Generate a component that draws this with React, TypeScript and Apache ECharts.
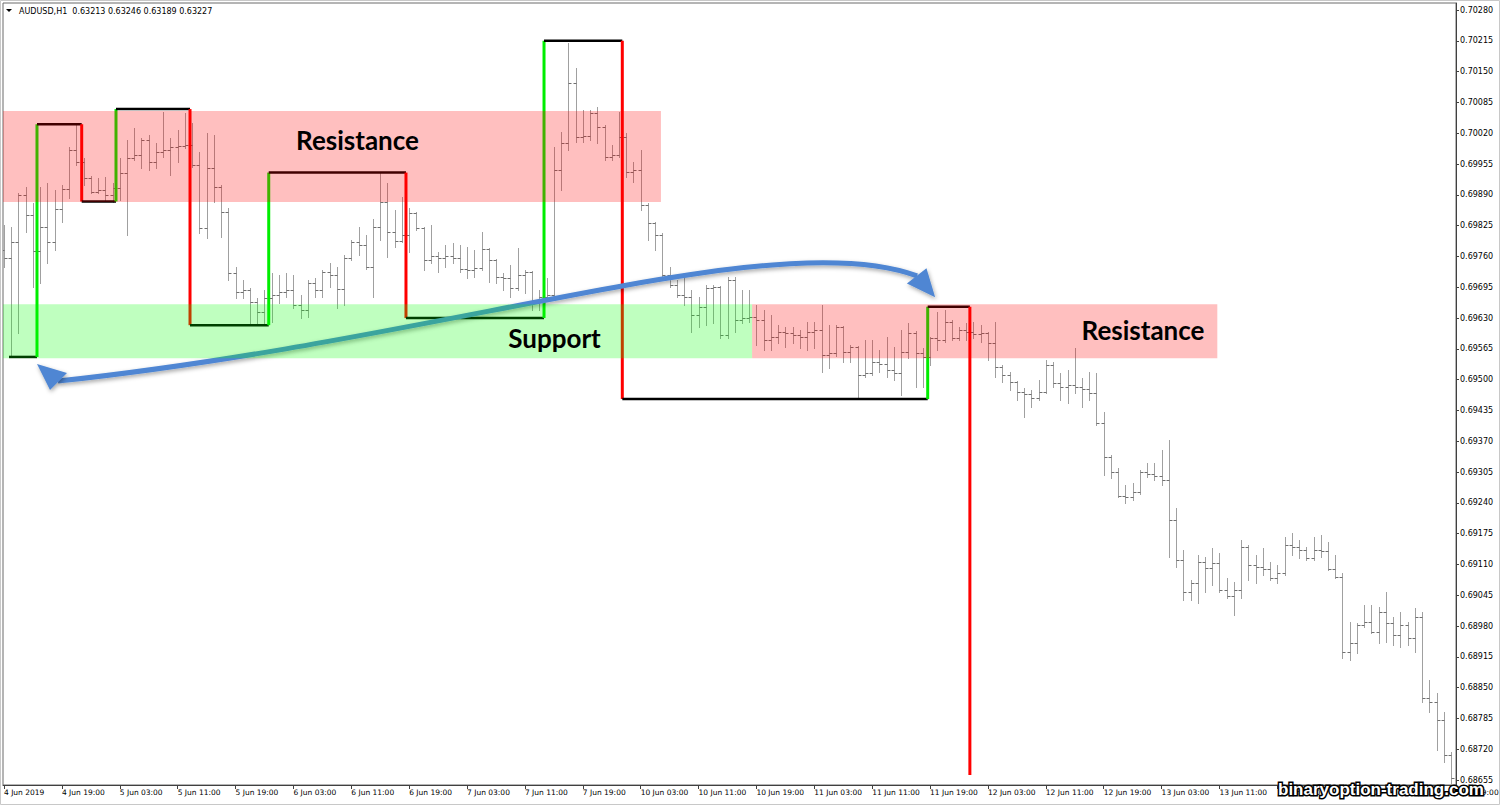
import React, { useEffect, useRef } from "react";
import * as echarts from "echarts";

// ---- x axis: hourly bars, a label every 8 bars ----
const tickBars = [0, 8, 16, 24, 32, 40, 48, 56, 64, 72, 80, 88, 96, 104, 112, 120, 128, 136, 144, 152, 160, 168, 176, 184, 192, 200];
const tickLabels = [
  "4 Jun 2019", "4 Jun 19:00", "5 Jun 03:00", "5 Jun 11:00", "5 Jun 19:00", "6 Jun 03:00", "6 Jun 11:00",
  "6 Jun 19:00", "7 Jun 03:00", "7 Jun 11:00", "7 Jun 19:00", "10 Jun 03:00", "10 Jun 11:00", "10 Jun 19:00",
  "11 Jun 03:00", "11 Jun 11:00", "11 Jun 19:00", "12 Jun 03:00", "12 Jun 11:00", "12 Jun 19:00", "13 Jun 03:00",
  "13 Jun 11:00", "13 Jun 19:00", "14 Jun 03:00", "14 Jun 11:00", "14 Jun 19:00",
];

// ---- y axis price labels ----
const priceTicks = [
  0.7028, 0.70215, 0.7015, 0.70085, 0.7002, 0.69955, 0.6989, 0.69825, 0.6976, 0.69695, 0.6963, 0.69565, 0.695,
  0.69435, 0.6937, 0.69305, 0.6924, 0.69175, 0.6911, 0.69045, 0.6898, 0.68915, 0.6885, 0.68785, 0.6872, 0.68655,
];

// ---- AUDUSD H1 bars: [open, high, low, close] ----
const bars: number[][] = [
  [0.69774, 0.69826, 0.69738, 0.69757], [0.69757, 0.69822, 0.69552, 0.69791], [0.69791, 0.69894, 0.69599, 0.6989],
  [0.6989, 0.69907, 0.69812, 0.69848], [0.69848, 0.69873, 0.69696, 0.69772], [0.69772, 0.69907, 0.69704, 0.69822],
  [0.69822, 0.69915, 0.69746, 0.69791], [0.69791, 0.699, 0.69774, 0.6986], [0.6986, 0.69911, 0.69833, 0.69902],
  [0.69902, 0.69991, 0.69883, 0.69985], [0.69985, 0.70037, 0.69953, 0.69959], [0.69959, 0.69968, 0.69911, 0.69926],
  [0.69926, 0.6993, 0.69894, 0.69896], [0.69896, 0.69926, 0.69894, 0.699], [0.699, 0.69928, 0.69879, 0.6989],
  [0.6989, 0.69915, 0.69875, 0.69904], [0.69904, 0.69968, 0.69879, 0.69936], [0.69936, 0.70006, 0.69805, 0.69968],
  [0.69968, 0.70031, 0.69964, 0.69975], [0.69975, 0.7001, 0.69947, 0.70006], [0.70006, 0.70016, 0.69942, 0.69959],
  [0.69959, 0.69999, 0.69947, 0.6998], [0.6998, 0.70065, 0.6997, 0.69985], [0.69985, 0.7001, 0.69932, 0.69991],
  [0.69991, 0.70027, 0.69959, 0.69993], [0.69993, 0.70063, 0.69988, 0.69995], [0.69995, 0.70042, 0.69948, 0.69953],
  [0.69953, 0.6998, 0.6981, 0.6982], [0.6982, 0.70021, 0.69799, 0.69947], [0.69947, 0.70016, 0.69875, 0.69907],
  [0.69907, 0.69911, 0.69801, 0.69854], [0.69854, 0.69862, 0.6971, 0.69725], [0.69725, 0.69738, 0.69672, 0.69685],
  [0.69685, 0.6971, 0.69672, 0.6969], [0.6969, 0.69693, 0.6962, 0.69664], [0.69664, 0.69672, 0.6962, 0.69643],
  [0.69643, 0.69689, 0.6962, 0.69672], [0.69672, 0.69725, 0.69622, 0.69679], [0.69679, 0.69721, 0.69662, 0.69685],
  [0.69685, 0.69725, 0.69674, 0.69689], [0.69689, 0.69721, 0.69651, 0.69658], [0.69658, 0.69679, 0.6963, 0.69647],
  [0.69647, 0.6971, 0.69632, 0.69704], [0.69704, 0.69715, 0.69674, 0.69689], [0.69689, 0.69731, 0.69674, 0.69727],
  [0.69727, 0.69746, 0.69696, 0.6972], [0.6972, 0.69738, 0.69651, 0.69691], [0.69691, 0.69763, 0.69658, 0.69757],
  [0.69757, 0.69795, 0.69753, 0.69791], [0.69791, 0.69822, 0.69763, 0.69785], [0.69785, 0.69805, 0.69733, 0.69738],
  [0.69738, 0.69839, 0.69674, 0.69822], [0.69822, 0.69936, 0.69795, 0.69875], [0.69875, 0.69915, 0.69759, 0.69812],
  [0.69812, 0.69858, 0.6978, 0.69793], [0.69793, 0.69885, 0.69791, 0.69805], [0.69805, 0.69862, 0.69769, 0.69852],
  [0.69852, 0.69854, 0.69815, 0.6982], [0.6982, 0.69822, 0.69731, 0.69753], [0.69753, 0.69826, 0.69746, 0.6976],
  [0.6976, 0.69769, 0.69727, 0.69757], [0.69757, 0.69784, 0.69738, 0.69762], [0.69762, 0.69788, 0.69746, 0.69757],
  [0.69757, 0.69784, 0.69728, 0.69733], [0.69733, 0.6978, 0.69715, 0.69731], [0.69731, 0.69774, 0.69717, 0.69735],
  [0.69735, 0.69812, 0.69731, 0.69776], [0.69776, 0.69778, 0.69706, 0.69753], [0.69753, 0.69755, 0.69704, 0.69717],
  [0.69717, 0.69725, 0.69689, 0.69715], [0.69715, 0.69742, 0.69674, 0.69693], [0.69693, 0.69778, 0.6969, 0.69721],
  [0.69721, 0.69731, 0.69683, 0.69728], [0.69728, 0.6973, 0.69647, 0.69664], [0.69664, 0.69689, 0.69647, 0.69674],
  [0.69674, 0.69715, 0.69668, 0.69679], [0.69679, 0.69991, 0.69672, 0.69942], [0.69942, 0.70023, 0.699, 0.69999],
  [0.69999, 0.7021, 0.69985, 0.70126], [0.70126, 0.70158, 0.70002, 0.70012], [0.70012, 0.70069, 0.70002, 0.70015],
  [0.70015, 0.70069, 0.70006, 0.70063], [0.70063, 0.70075, 0.69999, 0.70033], [0.70033, 0.70037, 0.69964, 0.6997],
  [0.6997, 0.69995, 0.69964, 0.69974], [0.69974, 0.70065, 0.6997, 0.70012], [0.70012, 0.70021, 0.69928, 0.69938],
  [0.69938, 0.69959, 0.69917, 0.69942], [0.69942, 0.69985, 0.69858, 0.69869], [0.69869, 0.69873, 0.69795, 0.69831],
  [0.69831, 0.69833, 0.69774, 0.69805], [0.69805, 0.6981, 0.69717, 0.69721], [0.69721, 0.69738, 0.69696, 0.697],
  [0.697, 0.6971, 0.69674, 0.69679], [0.69679, 0.69725, 0.69658, 0.69674], [0.69674, 0.69689, 0.69601, 0.69637],
  [0.69637, 0.69674, 0.69611, 0.69653], [0.69653, 0.697, 0.69615, 0.69693], [0.69693, 0.697, 0.6962, 0.69696],
  [0.69696, 0.69698, 0.69588, 0.69594], [0.69594, 0.69717, 0.69588, 0.6971], [0.6971, 0.69717, 0.69601, 0.69626],
  [0.69626, 0.69689, 0.6962, 0.6963], [0.6963, 0.69689, 0.69622, 0.69632], [0.69632, 0.69658, 0.69573, 0.69626],
  [0.69626, 0.69647, 0.69563, 0.69584], [0.69584, 0.69637, 0.69563, 0.6959], [0.6959, 0.69615, 0.69577, 0.69601],
  [0.69601, 0.69611, 0.69569, 0.69598], [0.69598, 0.69611, 0.69577, 0.69594], [0.69594, 0.69605, 0.69567, 0.6959],
  [0.6959, 0.69622, 0.69563, 0.69601], [0.69601, 0.69622, 0.69567, 0.69605], [0.69605, 0.69658, 0.69516, 0.69552],
  [0.69552, 0.69615, 0.69525, 0.69556], [0.69556, 0.69615, 0.6955, 0.69611], [0.69611, 0.69613, 0.69537, 0.69558],
  [0.69558, 0.69573, 0.69537, 0.69569], [0.69569, 0.69572, 0.69463, 0.6951], [0.6951, 0.69584, 0.69506, 0.69514],
  [0.69514, 0.69584, 0.6951, 0.69537], [0.69537, 0.69563, 0.69516, 0.69533], [0.69533, 0.6959, 0.69506, 0.6952],
  [0.6952, 0.69569, 0.69499, 0.69515], [0.69515, 0.69605, 0.69468, 0.69558], [0.69558, 0.6962, 0.69546, 0.69599],
  [0.69599, 0.69602, 0.69485, 0.69556], [0.69556, 0.69567, 0.69485, 0.69548], [0.69548, 0.6959, 0.69531, 0.69588],
  [0.69588, 0.69643, 0.69563, 0.69584], [0.69584, 0.69647, 0.6958, 0.69622], [0.69622, 0.69626, 0.69584, 0.69588],
  [0.69588, 0.69611, 0.69584, 0.69605], [0.69605, 0.6962, 0.69584, 0.696], [0.696, 0.69622, 0.69588, 0.69596],
  [0.69596, 0.69615, 0.6958, 0.69599], [0.69599, 0.69601, 0.69542, 0.69577], [0.69577, 0.69622, 0.69506, 0.69527],
  [0.69527, 0.6953, 0.69495, 0.6951], [0.6951, 0.69516, 0.69478, 0.69495], [0.69495, 0.69497, 0.69457, 0.69474],
  [0.69474, 0.69482, 0.69421, 0.6947], [0.6947, 0.69478, 0.69442, 0.69461], [0.69461, 0.69499, 0.69458, 0.69474],
  [0.69474, 0.69542, 0.69472, 0.69531], [0.69531, 0.69537, 0.69485, 0.69493], [0.69493, 0.69514, 0.69457, 0.69485],
  [0.69485, 0.6952, 0.69451, 0.69489], [0.69489, 0.69567, 0.69472, 0.69485], [0.69485, 0.69504, 0.69442, 0.6948],
  [0.6948, 0.69516, 0.69457, 0.69472], [0.69472, 0.69514, 0.69405, 0.69409], [0.69409, 0.69432, 0.69299, 0.69337],
  [0.69337, 0.69341, 0.69293, 0.69305], [0.69305, 0.69314, 0.69252, 0.69255], [0.69255, 0.69278, 0.6924, 0.69252],
  [0.69252, 0.69282, 0.69246, 0.69263], [0.69263, 0.69309, 0.69258, 0.69305], [0.69305, 0.69324, 0.69295, 0.693],
  [0.693, 0.69324, 0.69288, 0.69296], [0.69296, 0.69352, 0.69278, 0.69288], [0.69288, 0.69373, 0.69126, 0.69204],
  [0.69204, 0.69229, 0.69105, 0.6912], [0.6912, 0.69141, 0.69035, 0.69052], [0.69052, 0.69077, 0.69035, 0.69071],
  [0.69071, 0.6913, 0.69029, 0.69115], [0.69115, 0.69126, 0.69052, 0.69103], [0.69103, 0.69145, 0.69067, 0.69113],
  [0.69113, 0.69134, 0.69052, 0.69056], [0.69056, 0.69082, 0.69039, 0.69044], [0.69044, 0.69073, 0.69004, 0.69056],
  [0.69056, 0.69162, 0.69039, 0.69147], [0.69147, 0.69151, 0.69077, 0.69109], [0.69109, 0.6913, 0.69071, 0.69105],
  [0.69105, 0.69145, 0.69088, 0.691], [0.691, 0.69115, 0.69077, 0.69082], [0.69082, 0.69109, 0.69071, 0.69092],
  [0.69092, 0.69168, 0.69088, 0.69151], [0.69151, 0.69176, 0.6913, 0.69147], [0.69147, 0.69162, 0.69124, 0.69141],
  [0.69141, 0.69147, 0.6912, 0.69124], [0.69124, 0.69168, 0.6912, 0.69141], [0.69141, 0.69172, 0.69126, 0.69138],
  [0.69138, 0.69158, 0.69098, 0.69101], [0.69101, 0.6913, 0.69082, 0.69084], [0.69084, 0.69092, 0.68913, 0.68925],
  [0.68925, 0.68989, 0.68909, 0.68944], [0.68944, 0.68987, 0.68923, 0.68982], [0.68982, 0.69025, 0.68978, 0.68989],
  [0.68989, 0.69025, 0.68965, 0.68968], [0.68968, 0.6902, 0.68944, 0.6901], [0.6901, 0.69052, 0.68947, 0.68987],
  [0.68987, 0.68999, 0.6894, 0.68961], [0.68961, 0.6901, 0.68936, 0.68982], [0.68982, 0.68989, 0.6894, 0.68955],
  [0.68955, 0.69018, 0.68925, 0.68999], [0.68999, 0.6901, 0.6882, 0.68829], [0.68829, 0.68866, 0.68799, 0.6882],
  [0.6882, 0.68839, 0.68719, 0.68782], [0.68782, 0.68799, 0.68693, 0.68708], [0.68708, 0.68714, 0.68645, 0.6866],
];

// ---- hand-drawn step path (bar index, price) ----
const stepPath: number[][] = [
  [0.69, 0.69548], [4.56, 0.69548], [4.56, 0.70039], [10.74, 0.70039], [10.74, 0.69876], [15.48, 0.69876],
  [15.48, 0.70071], [25.71, 0.70071], [25.71, 0.69615], [36.59, 0.69615], [36.59, 0.69937], [55.56, 0.69937],
  [55.56, 0.6963], [74.64, 0.6963], [74.64, 0.70215], [85.46, 0.70215], [85.46, 0.69459], [127.67, 0.69459],
  [127.67, 0.69654], [133.5, 0.69654], [133.5, 0.68666],
];

// ---- zones: [fromBar, toBar, upperPrice, lowerPrice] ----
const zoneRanges: number[][] = [
  [-1, 90.8, 0.70067, 0.69875],
  [-1, 103.4, 0.69659, 0.69545],
  [103.4, 167.7, 0.69659, 0.69545],
];
const zoneKinds = ["resistance", "support", "resistance"];

// ---- annotation texts ----
const labelTexts = ["Resistance", "Support", "Resistance"];
const labelAnchors: number[][] = [
  [48.86, 0.70006],
  [76.09, 0.69588],
  [157.43, 0.69605],
];

// ---- curved double arrow (bar index, price) ----
const arrowCurve: number[][] = [[7.46, 0.69497], [62.75, 0.69588], [106.7, 0.69829], [126.2, 0.69719]];
const arrowHeadLeft: number[][] = [[4.56, 0.69533], [8.71, 0.69514], [6.36, 0.69478]];
const arrowHeadRight: number[][] = [[128.7, 0.69674], [127.5, 0.69735], [124.8, 0.69703]];

const ZONE_COLORS: Record<string, string> = {
  resistance: "rgba(255,0,0,0.25)",
  support: "rgba(0,255,0,0.25)",
};

export default function App() {
  const ref = useRef<HTMLDivElement>(null);

  useEffect(() => {
    if (!ref.current) return;
    const chart = echarts.init(ref.current, undefined, { renderer: "svg" });

    const barData = bars.map((b, i) => [i, b[0], b[1], b[2], b[3]]);
    const segData = stepPath.slice(1).map((p, k) => [stepPath[k][0], stepPath[k][1], p[0], p[1]]);
    const zoneData = zoneRanges.map((z, k) => [z[0], z[2], z[1], z[3], k]);
    const labelData = labelAnchors.map((a, k) => [a[0], a[1], k]);

    const option: any = {
      animation: false,
      backgroundColor: "#ffffff",
      grid: {
        left: 3,
        top: 3,
        right: 44,
        bottom: 20,
        outerBoundsMode: "none",
        containLabel: false,
        show: true,
        borderColor: "#6b6b6b",
        borderWidth: 1,
        backgroundColor: "#ffffff",
      },
      xAxis: {
        type: "value",
        min: -0.138,
        max: 200.69,
        position: "bottom",
        splitLine: { show: false },
        axisLine: { show: true, onZero: false, lineStyle: { color: "#404040", width: 1 } },
        axisTick: { show: true, customValues: tickBars, length: 4, lineStyle: { color: "#404040" } },
        axisLabel: {
          customValues: tickBars,
          formatter: (v: number) => tickLabels[tickBars.indexOf(v)] ?? "",
          align: "left",
          margin: 3,
          fontSize: 7.5,
          fontFamily: "DejaVu Sans",
          color: "#000",
          hideOverlap: false,
        },
      },
      yAxis: {
        type: "value",
        position: "right",
        min: 0.686448,
        max: 0.702948,
        splitLine: { show: false },
        axisLine: { show: true, onZero: false, lineStyle: { color: "#404040", width: 1 } },
        axisTick: { show: true, customValues: priceTicks, length: 3, lineStyle: { color: "#404040" } },
        axisLabel: {
          customValues: priceTicks,
          formatter: (v: number) => v.toFixed(5),
          margin: 4,
          fontSize: 8,
          fontFamily: "DejaVu Sans",
          color: "#000",
        },
      },
      series: [
        {
          type: "custom",
          name: "AUDUSD H1",
          z: 2,
          clip: true,
          data: barData,
          encode: { x: 0, y: [1, 2, 3, 4] },
          renderItem: (_p: any, api: any) => {
            const i = api.value(0);
            const ph = api.coord([i, api.value(2)]);
            const pl = api.coord([i, api.value(3)]);
            const po = api.coord([i, api.value(1)]);
            const pc = api.coord([i, api.value(4)]);
            const x = Math.round(ph[0]) + 0.5;
            const yo = Math.round(po[1]) + 0.5;
            const yc = Math.round(pc[1]) + 0.5;
            const st = { stroke: "#a0a0a0", lineWidth: 1 };
            const tk = { stroke: "#707070", lineWidth: 1 };
            return {
              type: "group",
              children: [
                { type: "line", shape: { x1: x, y1: Math.round(ph[1]), x2: x, y2: Math.round(pl[1]) + 1 }, style: st },
                { type: "line", shape: { x1: x - 3, y1: yo, x2: x, y2: yo }, style: tk },
                { type: "line", shape: { x1: x, y1: yc, x2: x + 3, y2: yc }, style: tk },
              ],
            };
          },
        },
        {
          type: "custom",
          name: "steps",
          z: 3,
          clip: true,
          data: segData,
          encode: { x: [0, 2], y: [1, 3] },
          renderItem: (_p: any, api: any) => {
            const a = api.coord([api.value(0), api.value(1)]);
            const b = api.coord([api.value(2), api.value(3)]);
            const vertical = api.value(0) === api.value(2);
            const up = api.value(3) > api.value(1);
            const color = vertical ? (up ? "#00ee00" : "#ff0000") : "#000000";
            return {
              type: "line",
              shape: { x1: a[0], y1: a[1], x2: b[0], y2: b[1] },
              style: { stroke: color, lineWidth: vertical ? 3 : 2.5, lineCap: "butt" },
            };
          },
        },
        {
          type: "custom",
          name: "arrow",
          z: 4,
          clip: false,
          data: [[arrowCurve[0][0], arrowCurve[0][1]]],
          encode: { x: 0, y: 1 },
          renderItem: (_p: any, api: any) => {
            const c = arrowCurve.map((q) => api.coord(q));
            const hl = arrowHeadLeft.map((q) => api.coord(q));
            const hr = arrowHeadRight.map((q) => api.coord(q));
            const shadow = { shadowBlur: 4, shadowColor: "rgba(0,0,0,0.35)", shadowOffsetX: 1, shadowOffsetY: 2 };
            return {
              type: "group",
              children: [
                {
                  type: "bezierCurve",
                  shape: {
                    x1: c[0][0], y1: c[0][1], cpx1: c[1][0], cpy1: c[1][1],
                    cpx2: c[2][0], cpy2: c[2][1], x2: c[3][0], y2: c[3][1],
                  },
                  style: { stroke: "#4f86d3", lineWidth: 5, fill: null, ...shadow },
                },
                { type: "polygon", shape: { points: hl }, style: { fill: "#4f86d3", ...shadow } },
                { type: "polygon", shape: { points: hr }, style: { fill: "#4f86d3", ...shadow } },
              ],
            };
          },
        },
        {
          type: "custom",
          name: "zones",
          z: 5,
          clip: true,
          data: zoneData,
          encode: { x: [0, 2], y: [1, 3] },
          renderItem: (_p: any, api: any) => {
            const a = api.coord([api.value(0), api.value(1)]);
            const b = api.coord([api.value(2), api.value(3)]);
            const k = api.value(4);
            return {
              type: "rect",
              shape: { x: a[0], y: a[1], width: b[0] - a[0], height: b[1] - a[1] },
              style: { fill: ZONE_COLORS[zoneKinds[k]] },
            };
          },
        },
        {
          type: "custom",
          name: "labels",
          z: 6,
          clip: false,
          data: labelData,
          encode: { x: 0, y: 1 },
          renderItem: (_p: any, api: any) => {
            const p = api.coord([api.value(0), api.value(1)]);
            const k = api.value(2);
            return {
              type: "text",
              x: p[0],
              y: p[1],
              style: {
                text: labelTexts[k],
                fill: "#000",
                fontSize: 26,
                fontWeight: "bold",
                fontFamily: "Lato",
                align: "center",
                verticalAlign: "middle",
              },
            };
          },
        },
      ],
      graphic: [
        {
          type: "rect",
          z: 0,
          silent: true,
          shape: { x: 0.5, y: 0.5, width: 1499, height: 804 },
          style: { fill: null, stroke: "#c8c8c8", lineWidth: 1 },
        },
        {
          type: "polygon",
          silent: true,
          shape: { points: [[6, 9], [12, 9], [9, 12]] },
          style: { fill: "#000" },
        },
        {
          type: "text",
          silent: true,
          x: 19,
          y: 11,
          style: {
            text: "AUDUSD,H1  0.63213 0.63246 0.63189 0.63227",
            fill: "#000",
            fontSize: 8,
            fontFamily: "DejaVu Sans",
            verticalAlign: "middle",
          },
        },
        {
          type: "text",
          silent: true,
          z: 100,
          x: 1278,
          y: 789,
          style: {
            text: "binaryoption-trading.com",
            fill: "#ffffff",
            stroke: "#000000",
            lineWidth: 3,
            fontSize: 17,
            fontWeight: "bold",
            fontFamily: "Liberation Sans",
            verticalAlign: "middle",
          },
        },
      ],
    };

    chart.setOption(option);
    return () => chart.dispose();
  }, []);

  return (
    <div
      ref={ref}
      style={{ position: "fixed", left: 0, top: 0, width: 1500, height: 805, background: "#fff" }}
    />
  );
}
